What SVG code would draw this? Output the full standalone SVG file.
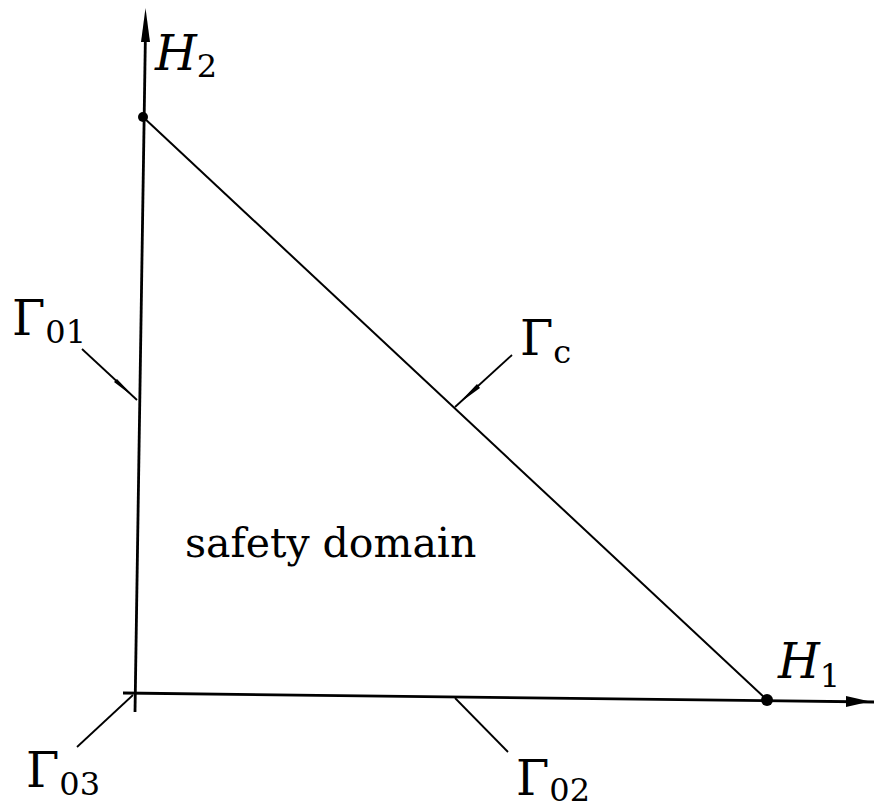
<svg xmlns="http://www.w3.org/2000/svg" width="875" height="808" viewBox="0 0 875 808">
<style>
.ax{stroke:#000;stroke-width:2.8;fill:none}
.ln{stroke:#000;stroke-width:2;fill:none}
.ld{stroke:#000;stroke-width:1.8;fill:none}
.lab{font-family:'DejaVu Serif','Liberation Serif',serif;fill:#000}
.it{font-style:italic}
</style>
<rect width="875" height="808" fill="#fff"/>
<g id="connectors">
<line class="ax" x1="145.5" y1="30" x2="135" y2="712"/>
<polygon points="145.5,8 150,42 141,42" fill="#000"/>
<line class="ax" x1="123" y1="693" x2="874" y2="702"/>
<polygon points="870,701.5 846,696 846,707" fill="#000"/>
<line class="ln" x1="143" y1="117" x2="767" y2="700"/>
</g>
<g id="leaders">
<line class="ld" x1="82" y1="349" x2="137" y2="400"/>
<polygon points="135,398 114,382 117,379" fill="#000"/>
<line class="ld" x1="512" y1="355" x2="455" y2="407"/>
<polygon points="458,404 477,384 480,388" fill="#000"/>
<line class="ld" x1="455" y1="698" x2="508" y2="752"/>
<line class="ld" x1="133" y1="695" x2="77" y2="747"/>
</g>
<g id="p-H2"><circle cx="143" cy="117" r="5" fill="#000"/></g>
<g id="p-H1"><circle cx="767" cy="700" r="6" fill="#000"/></g>
<g id="label-H2"><text class="lab" x="155" y="70" font-size="48"><tspan class="it">H</tspan><tspan font-size="32" dy="7">2</tspan></text></g>
<g id="label-H1"><text class="lab" x="778" y="678" font-size="48"><tspan class="it">H</tspan><tspan font-size="32" dy="9">1</tspan></text></g>
<g id="label-G01"><text class="lab" x="12" y="335" font-size="48">Γ<tspan font-size="32" dy="8">01</tspan></text></g>
<g id="label-Gc"><text class="lab" x="520" y="355" font-size="48">Γ<tspan font-size="32" dy="8">c</tspan></text></g>
<g id="label-G03"><text class="lab" x="26" y="787" font-size="48">Γ<tspan font-size="32" dy="8">03</tspan></text></g>
<g id="label-G02"><text class="lab" x="516" y="795" font-size="48">Γ<tspan font-size="32" dy="6">02</tspan></text></g>
<g id="label-safety"><text class="lab" x="185" y="557" font-size="41">safety domain</text></g>
</svg>
